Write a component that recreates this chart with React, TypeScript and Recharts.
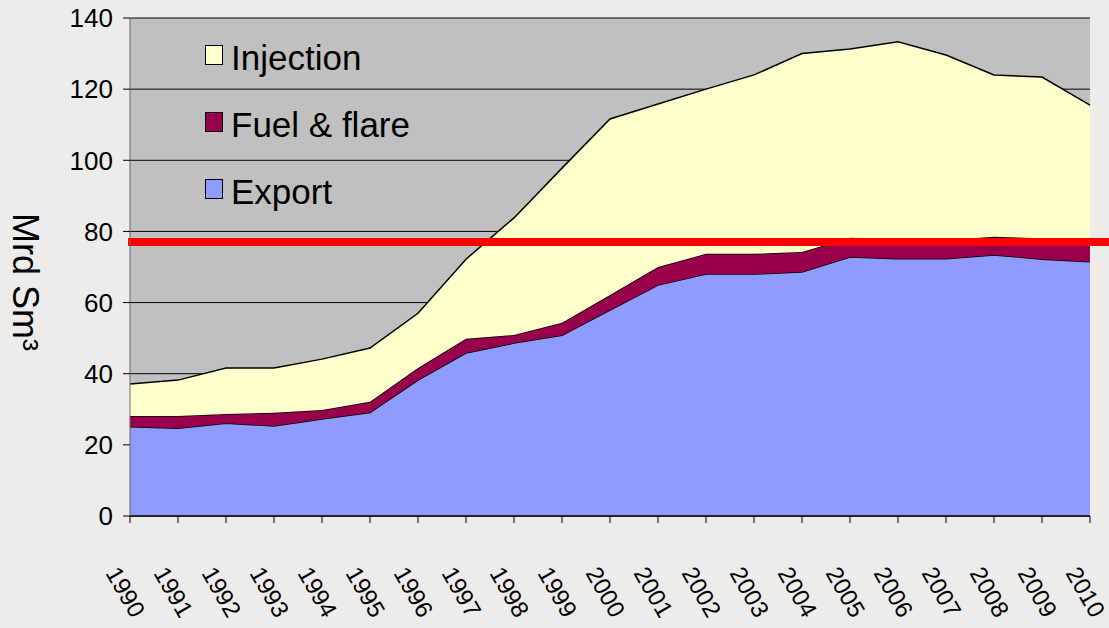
import { AreaChart, Area, XAxis, YAxis, CartesianGrid, ReferenceLine, Label } from 'recharts'

const years = [
  '1990', '1991', '1992', '1993', '1994', '1995', '1996', '1997', '1998', '1999', '2000',
  '2001', '2002', '2003', '2004', '2005', '2006', '2007', '2008', '2009', '2010',
]
const exportGas = [
  25.1, 24.7, 26.1, 25.3, 27.3, 29.1, 38.2, 45.8, 48.6, 50.8, 57.9, 64.9, 68, 68, 68.6, 72.8, 72.3,
  72.3, 73.4, 72.2, 71.5,
]
const fuelFlare = [
  3.0, 3.4, 2.6, 3.7, 2.5, 3.0, 3.4, 4.0, 2.3, 3.5, 4.2, 5.1, 5.7, 5.7, 5.6, 5.4, 5.6, 5.3, 5.1, 5.9,
  6.4,
]
const injection = [
  9.0, 10.1, 12.9, 12.6, 14.3, 15.1, 15.4, 22.4, 32.9, 43.5, 49.5, 45.8, 46.3, 50.3, 55.8, 53.1,
  55.4, 52.0, 45.5, 45.3, 37.6,
]
const yTicks = [0, 20, 40, 60, 80, 100, 120, 140]
const limitLine = 77

const data = years.map((year, i) => ({
  year,
  export: exportGas[i],
  fuel: fuelFlare[i],
  injection: injection[i],
}))

const FONT = '"Liberation Sans", Arial, sans-serif'

const legendItems = [
  { label: 'Injection', color: '#FFFFCC' },
  { label: 'Fuel & flare', color: '#99004C' },
  { label: 'Export', color: '#8F9CFF' },
]

// drawn over the plot, like the original's in-plot legend box
function LegendBox() {
  return (
    <div style={{ position: 'absolute', left: 205, top: 24, fontFamily: FONT }}>
      {legendItems.map((it) => (
        <div key={it.label} style={{ display: 'flex', alignItems: 'center', height: 67 }}>
          <span
            style={{
              display: 'inline-block',
              width: 16,
              height: 18,
              background: it.color,
              border: '1px solid #000',
              marginRight: 8,
              marginTop: -6,
            }}
          />
          <span style={{ fontSize: 35, color: '#000' }}>{it.label}</span>
        </div>
      ))}
    </div>
  )
}

function YearTick(props: any) {
  const { x, payload } = props
  const tx = x - 25
  const ty = 573
  return (
    <text
      x={tx}
      y={ty}
      transform={`rotate(60, ${tx}, ${ty})`}
      textAnchor="start"
      fontFamily={FONT}
      fontSize={24}
      fill="#000"
    >
      {payload.value}
    </text>
  )
}

function UnitLabel() {
  return (
    <text
      x={13}
      y={213}
      transform="rotate(90, 13, 213)"
      textAnchor="start"
      fontFamily={FONT}
      fontSize={36}
      fill="#000"
    >
      Mrd Sm³
    </text>
  )
}

function RedLine(props: any) {
  const { x1, x2, y1 } = props
  return <line x1={x1 - 2} x2={x2 + 30} y1={y1} y2={y1} stroke="#FF0000" strokeWidth={8} />
}

export default function App() {
  return (
    <div style={{ position: 'absolute', left: 0, top: 0, width: 1109, height: 628, background: '#EDECEA', overflow: 'hidden' }}>
      <AreaChart width={1109} height={628} data={data} margin={{ top: 18, right: 19, bottom: 0, left: 0 }}>
        <CartesianGrid fill="#C0C0C0" stroke="#000" vertical={false} />
        <XAxis
          dataKey="year"
          height={112}
          tick={<YearTick />}
          interval={0}
          tickLine={{ stroke: '#000' }}
          tickSize={7}
          axisLine={{ stroke: '#000', strokeWidth: 1.5 }}
        />
        <YAxis
          width={130}
          domain={[0, 140]}
          ticks={yTicks}
          tick={{ fill: '#000', fontSize: 26, fontFamily: FONT }}
          tickLine={{ stroke: '#000' }}
          tickSize={7}
          tickMargin={10}
          axisLine={{ stroke: '#666' }}
        >
          <Label content={<UnitLabel />} />
        </YAxis>
        <Area
          type="linear"
          dataKey="export"
          stackId="a"
          fill="#8F9CFF"
          fillOpacity={1}
          stroke="#000"
          strokeWidth={1.5}
          isAnimationActive={false}
        />
        <Area
          type="linear"
          dataKey="fuel"
          stackId="a"
          fill="#99004C"
          fillOpacity={1}
          stroke="#000"
          strokeWidth={1.5}
          isAnimationActive={false}
        />
        <Area
          type="linear"
          dataKey="injection"
          stackId="a"
          fill="#FFFFCC"
          fillOpacity={1}
          stroke="#000"
          strokeWidth={1.5}
          isAnimationActive={false}
        />
        <ReferenceLine y={limitLine} shape={<RedLine />} ifOverflow="visible" />
      </AreaChart>
      <LegendBox />
    </div>
  )
}
